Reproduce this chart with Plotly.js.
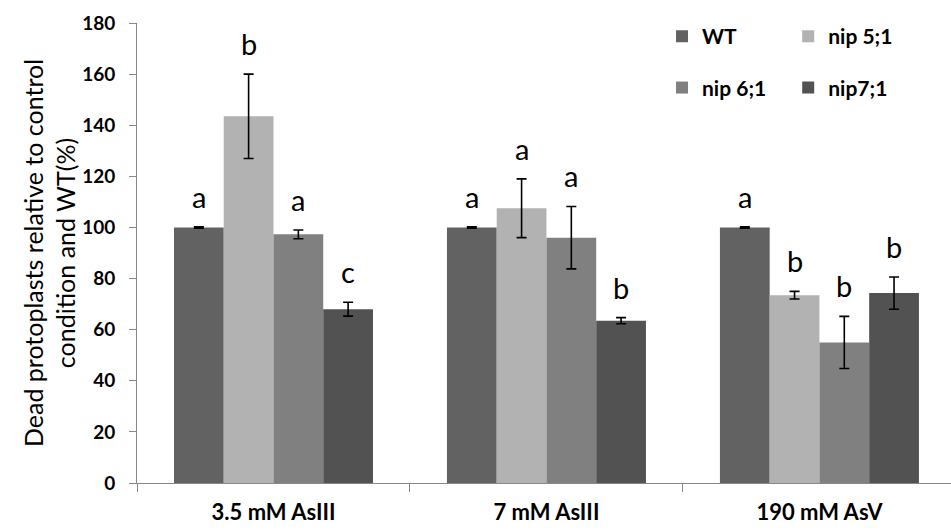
<!DOCTYPE html>
<html>
<head>
<meta charset="utf-8">
<script src="https://cdn.plot.ly/plotly-3.0.1.min.js"></script>
<style>html,body{margin:0;padding:0;background:#fff;}</style>
</head>
<body>
<div id="chart" style="width:951px;height:531px;"></div>
<script>
// ---- data ----
const categories = ['3.5 mM AsIII', '7 mM AsIII', '190 mM AsV'];
const seriesNames = ['WT', 'nip 5;1', 'nip 6;1', 'nip7;1'];

const wtValues    = [100, 100, 100];
const wtErrors    = [0.3, 0.3, 0.3];
const nip51Values = [143.5, 107.5, 73.5];
const nip51Errors = [16.5, 11.5, 1.5];
const nip61Values = [97.3, 96, 55];
const nip61Errors = [1.7, 12.2, 10.2];
const nip71Values = [68, 63.5, 74.3];
const nip71Errors = [2.7, 1.2, 6.3];

const wtLetters    = ['a', 'a', 'a'];
const nip51Letters = ['b', 'a', 'b'];
const nip61Letters = ['a', 'a', 'b'];
const nip71Letters = ['c', 'b', 'b'];

// ---- styling ----
const colors = ['#626262', '#b2b2b2', '#808080', '#525252'];
const FONT = 'Lato, "Liberation Sans", Arial, sans-serif';
const BARGAP = 0.271;
const axisColor = '#888888';

const values = [wtValues, nip51Values, nip61Values, nip71Values];
const errors = [wtErrors, nip51Errors, nip61Errors, nip71Errors];
const letters = [wtLetters, nip51Letters, nip61Letters, nip71Letters];
const legendOf = ['legend', 'legend2', 'legend', 'legend2'];

const traces = seriesNames.map((name, i) => ({
  type: 'bar',
  name: name,
  x: categories,
  y: values[i],
  marker: {color: colors[i]},
  error_y: {type: 'data', array: errors[i], visible: true, color: '#000000', thickness: 1.6, width: 5},
  legend: legendOf[i],
  legendgroup: 'g' + i,
  hoverinfo: 'skip'
}));

const annotations = [];
const nS = seriesNames.length;
const barW = (1 - BARGAP) / nS;
seriesNames.forEach((name, i) => {
  categories.forEach((c, j) => {
    annotations.push({
      xref: 'x', yref: 'y',
      x: j + (i - (nS - 1) / 2) * barW,
      y: values[i][j] + errors[i][j],
      text: letters[i][j],
      showarrow: false,
      yanchor: 'bottom',
      yshift: 11,
      font: {family: FONT, size: 29, color: '#000000'}
    });
  });
});

const legendCommon = {
  orientation: 'v',
  xanchor: 'left', yanchor: 'top',
  yref: 'paper', xref: 'paper',
  traceorder: 'grouped',
  tracegroupgap: 21,
  bgcolor: 'rgba(0,0,0,0)',
  font: {family: FONT, size: 21, color: '#000000', weight: 'bold'},
  itemclick: false, itemdoubleclick: false
};

const layout = {
  width: 951, height: 531,
  margin: {l: 137, r: 0, t: 23, b: 48, pad: 0},
  paper_bgcolor: '#ffffff', plot_bgcolor: '#ffffff',
  barmode: 'group', bargap: BARGAP, bargroupgap: 0,
  font: {family: FONT, color: '#000000'},
  showlegend: true,
  legend: Object.assign({}, legendCommon, {x: 0.645, y: 1.015}),
  legend2: Object.assign({}, legendCommon, {x: 0.80, y: 1.015}),
  xaxis: {
    type: 'category',
    range: [-0.5, 2.482],
    showline: true, linecolor: axisColor, linewidth: 1,
    ticks: 'outside', tickson: 'boundaries', ticklen: 8, tickcolor: axisColor, tickwidth: 1,
    showgrid: false, zeroline: false,
    tickfont: {family: FONT, size: 22, color: '#000000', weight: 'bold'},
    ticklabelstandoff: 10,
    fixedrange: true
  },
  yaxis: {
    range: [0, 180], dtick: 20, tick0: 0,
    showline: true, linecolor: axisColor, linewidth: 1,
    ticks: 'outside', ticklen: 7, tickcolor: axisColor, tickwidth: 1,
    showgrid: false, zeroline: false,
    tickfont: {family: FONT, size: 19, color: '#000000', weight: 'bold'},
    ticklabelstandoff: 10,
    title: {text: 'Dead protoplasts relative to control<br>condition and WT(%)',
            font: {family: FONT, size: 25, color: '#000000'}},
    fixedrange: true
  },
  annotations: annotations
};

Plotly.newPlot('chart', traces, layout, {displayModeBar: false, staticPlot: true});
</script>
</body>
</html>
